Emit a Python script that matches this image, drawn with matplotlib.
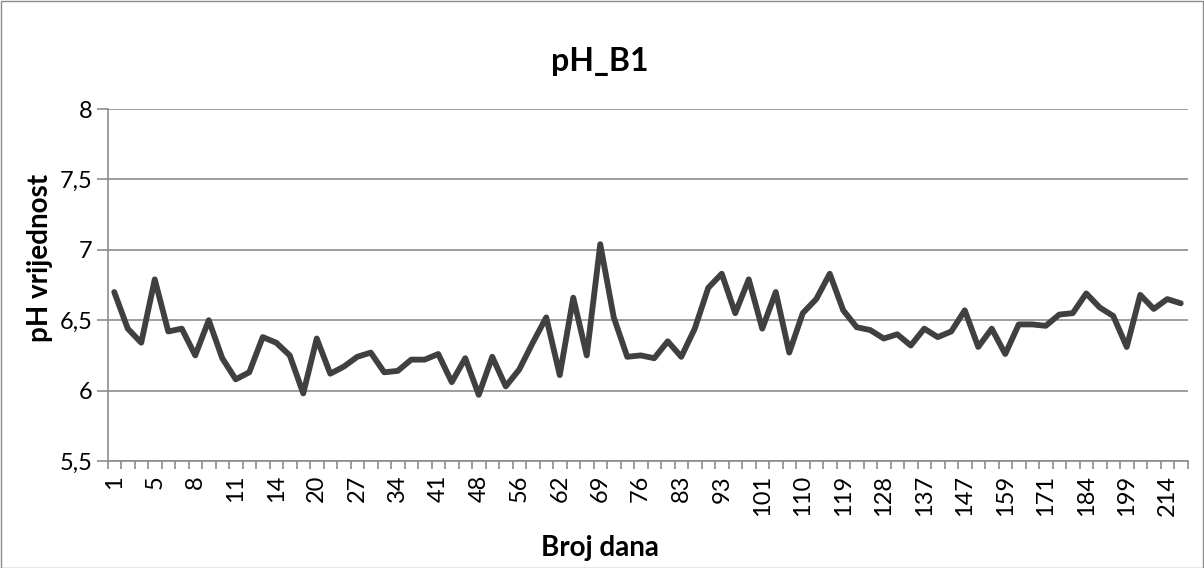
import matplotlib
matplotlib.use("Agg")
import matplotlib.pyplot as plt
from matplotlib.patches import Rectangle

plt.rcParams['font.family'] = ['Lato', 'DejaVu Sans']

days = [1, 3, 4, 5, 6, 7, 8, 9, 10, 11, 12, 13, 14, 16, 18, 20, 22, 25, 27, 29, 32,
        34, 36, 39, 41, 43, 46, 48, 51, 53, 56, 58, 60, 62, 64, 67, 69, 71, 74, 76,
        78, 81, 83, 86, 90, 93, 96, 99, 101, 104, 107, 110, 113, 116, 119, 122, 125,
        128, 131, 134, 137, 140, 144, 147, 151, 155, 159, 163, 167, 171, 175, 180,
        184, 189, 194, 199, 204, 209, 214, 219]
ph = [6.70, 6.44, 6.34, 6.79, 6.42, 6.44, 6.25, 6.50, 6.23, 6.08,
      6.13, 6.38, 6.34, 6.25, 5.98, 6.37, 6.12, 6.17, 6.24, 6.27,
      6.13, 6.14, 6.22, 6.22, 6.26, 6.06, 6.23, 5.97, 6.24, 6.03,
      6.15, 6.34, 6.52, 6.11, 6.66, 6.25, 7.04, 6.52, 6.24, 6.25,
      6.23, 6.35, 6.24, 6.44, 6.73, 6.83, 6.55, 6.79, 6.44, 6.70,
      6.27, 6.55, 6.65, 6.83, 6.57, 6.45, 6.43, 6.37, 6.40, 6.32,
      6.44, 6.38, 6.42, 6.57, 6.31, 6.44, 6.26, 6.47, 6.47, 6.46,
      6.54, 6.55, 6.69, 6.59, 6.53, 6.31, 6.68, 6.58, 6.65, 6.62]
yticks = [5.5, 6.0, 6.5, 7.0, 7.5, 8.0]
ytick_labels = ["5,5", "6", "6,5", "7", "7,5", "8"]
title = "pH_B1"
xlabel = "Broj dana"
ylabel = "pH vrijednost"

W, H = 1204, 568
fig = plt.figure(figsize=(W / 100, H / 100), dpi=100)
fig.patches.append(Rectangle((0.5 / W, 0.5 / H), 1 - 1.5 / W, 1 - 1.5 / H,
                             transform=fig.transFigure, fill=False,
                             edgecolor="#8c8c8c", linewidth=1.0))

ax = fig.add_axes([107.5 / W, 1 - 461 / H, 1080 / W, 352 / H])
x = list(range(len(ph)))
ax.plot(x, ph, color="#404040", linewidth=4.2, solid_joinstyle="round",
        solid_capstyle="round", zorder=3)

ax.set_xlim(-0.5, len(ph) - 0.5)
ax.set_ylim(5.5, 8.0)
ax.set_yticks(yticks)
ax.set_yticklabels(ytick_labels, fontsize=17)
ax.yaxis.grid(True, color="#8c8c8c", linewidth=1.2)
ax.set_axisbelow(True)

major = x[::3]
ax.set_xticks(major)
ax.set_xticklabels([str(days[i]) for i in major], rotation=90, fontsize=17)
ax.set_xticks([i - 0.5 for i in range(len(ph) + 1)], minor=True)
ax.tick_params(axis="x", which="major", length=0, pad=10)
ax.tick_params(axis="x", which="minor", length=6, color="#8c8c8c", width=1.2,
               direction="out")
ax.tick_params(axis="y", which="major", length=8, color="#8c8c8c", width=1.2,
               direction="out", pad=3)

for s in ["top", "right"]:
    ax.spines[s].set_visible(False)
for s in ["left", "bottom"]:
    ax.spines[s].set_color("#8c8c8c")
    ax.spines[s].set_linewidth(1.2)

fig.text(600 / W, 1 - 62 / H, title, ha="center", va="center",
         fontsize=23, fontweight="bold")
fig.text(600 / W, 1 - 548 / H, xlabel, ha="center", va="center",
         fontsize=20, fontweight="bold")
fig.text(40 / W, 1 - 258 / H, ylabel, ha="center", va="center",
         rotation=90, fontsize=20, fontweight="bold")

fig.savefig("out.png", dpi=100)
